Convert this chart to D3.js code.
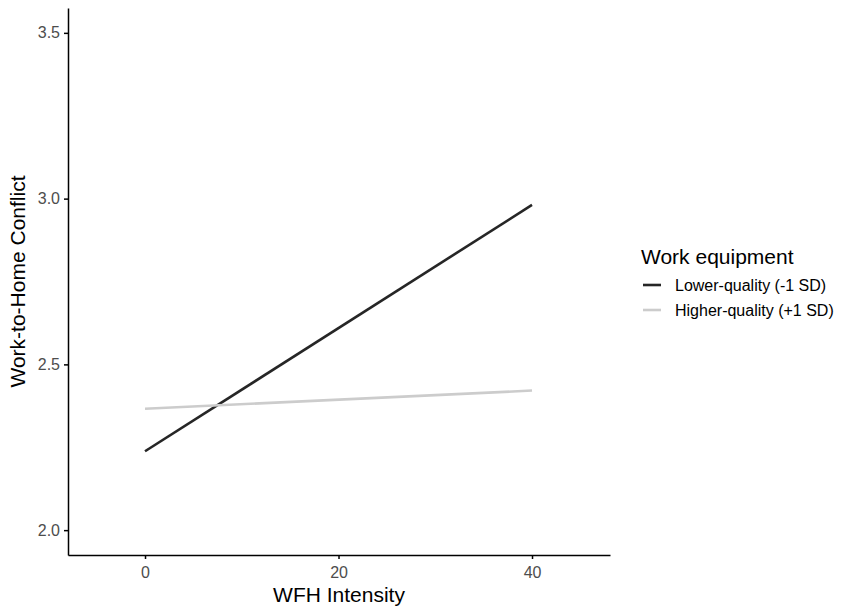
<!DOCTYPE html>
<html>
<head>
<meta charset="utf-8">
<script src="https://cdn.jsdelivr.net/npm/d3@7"></script>
<style>
  body { margin: 0; background: #fff; }
  svg { font-family: "Liberation Sans", Arial, sans-serif; display: block; }
  .axis path, .axis line { stroke: #000; stroke-width: 1.5px; }
  .axis text { fill: #4d4d4d; font-size: 16px; }
</style>
</head>
<body>
<div id="chart"></div>
<script>
// WFH intensity x work equipment interaction plot
var groups = ["Lower-quality (-1 SD)", "Higher-quality (+1 SD)"];
var colors = ["#262626", "#cccccc"];
var intensity = [0, 40];
var lowerVals = [2.238, 2.981];
var higherVals = [2.366, 2.421];
var xTicks = [0, 20, 40];
var yTicks = [2.0, 2.5, 3.0, 3.5];

var width = 851,
	height = 614,
	margin = {top: 8, right: 241, bottom: 59, left: 68};

var svg = d3.select("#chart").append("svg")
	.attr("width", width)
	.attr("height", height);

var x = d3.scaleLinear().domain([-7.96, 48.06]).range([margin.left, width - margin.right]),
	y = d3.scaleLinear().domain([1.925, 3.575]).range([height - margin.bottom, margin.top]);

var series = [lowerVals, higherVals].map(function(vals, i) {
	return {
		id: groups[i],
		values: intensity.map(function(d, j) { return {x: d, y: vals[j]}; })
	};
});

var line = d3.line()
	.x(function(d) { return x(d.x); })
	.y(function(d) { return y(d.y); });

svg.append("g")
	.attr("class", "axis axis--x")
	.attr("transform", "translate(0," + (height - margin.bottom) + ")")
	.call(d3.axisBottom(x).tickValues(xTicks).tickSize(4).tickPadding(5).tickSizeOuter(0))
	.selectAll("text").attr("dy", "0.85em");

svg.append("g")
	.attr("class", "axis axis--y")
	.attr("transform", "translate(" + margin.left + ",0)")
	.call(d3.axisLeft(y).tickValues(yTicks).tickFormat(d3.format(".1f")).tickSize(4).tickPadding(4).tickSizeOuter(0));

svg.selectAll(".series")
	.data(series)
	.enter().append("path")
		.attr("class", "series")
		.attr("fill", "none")
		.attr("stroke", function(d, i) { return colors[i]; })
		.attr("stroke-width", 2.6)
		.attr("d", function(d) { return line(d.values); });

// axis titles
svg.append("text")
	.attr("x", (margin.left + width - margin.right) / 2)
	.attr("y", 602)
	.attr("text-anchor", "middle")
	.attr("font-size", 21)
	.attr("fill", "#000")
	.text("WFH Intensity");

svg.append("text")
	.attr("transform", "translate(25," + ((margin.top + height - margin.bottom) / 2) + ") rotate(-90)")
	.attr("text-anchor", "middle")
	.attr("font-size", 21)
	.attr("fill", "#000")
	.text("Work-to-Home Conflict");

// legend
var legend = svg.append("g").attr("transform", "translate(641,0)");
legend.append("text")
	.attr("x", 0)
	.attr("y", 264)
	.attr("font-size", 21)
	.attr("fill", "#000")
	.text("Work equipment");

var item = legend.selectAll(".key")
	.data(groups)
	.enter().append("g")
		.attr("class", "key")
		.attr("transform", function(d, i) { return "translate(0," + (285 + i * 25) + ")"; });

item.append("line")
	.attr("x1", 2).attr("x2", 20)
	.attr("stroke", function(d, i) { return colors[i]; })
	.attr("stroke-width", 2.6);

item.append("text")
	.attr("x", 34)
	.attr("dy", "0.36em")
	.attr("font-size", 16)
	.attr("fill", "#000")
	.text(function(d) { return d; });
</script>
</body>
</html>
